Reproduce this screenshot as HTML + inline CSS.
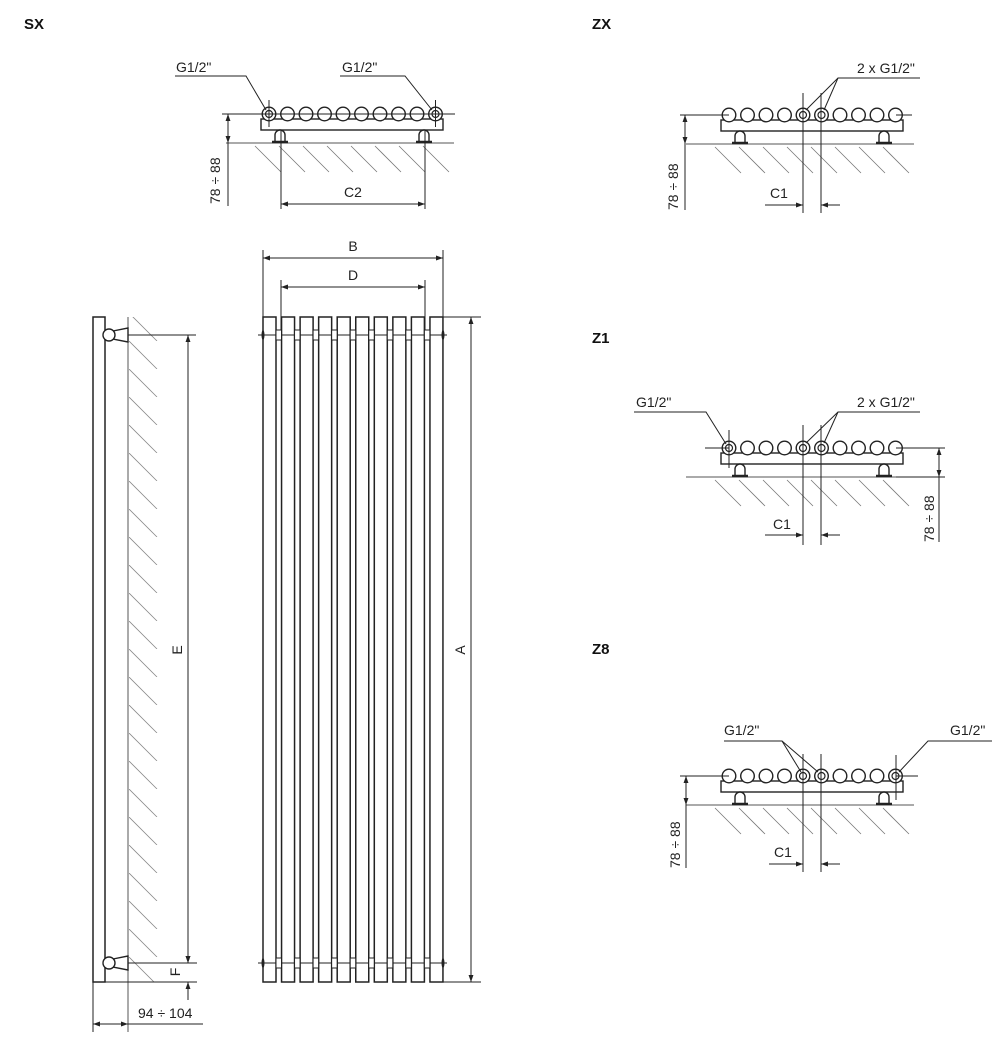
<!DOCTYPE html>
<html><head><meta charset="utf-8"><style>
html,body{margin:0;padding:0;background:#fff;width:1006px;height:1042px;overflow:hidden}
svg{display:block}
text{font-family:"Liberation Sans","DejaVu Sans",sans-serif;font-size:14px;fill:#222}
.t{font-weight:bold;font-size:15px;fill:#111}
</style></head><body>
<svg width="1006" height="1042" viewBox="0 0 1006 1042" xmlns="http://www.w3.org/2000/svg" xmlns:xlink="http://www.w3.org/1999/xlink">
<defs>
<marker id="a" viewBox="0 0 10 10" refX="10" refY="5" markerWidth="9" markerHeight="7" orient="auto-start-reverse" markerUnits="userSpaceOnUse"><path d="M0,1.5 L10,5 L0,8.5z" fill="#222"/></marker>
<pattern id="hp" x="129" y="313" width="40" height="28" patternUnits="userSpaceOnUse"><line x1="0" y1="0" x2="28" y2="28" stroke="#888" stroke-width="0.8"/></pattern>
<g id="tv" stroke="#222" fill="none">
<g stroke="#777" stroke-width="0.8">
<line x1="-14" y1="32" x2="12" y2="58"/><line x1="10" y1="32" x2="36" y2="58"/><line x1="34" y1="32" x2="60" y2="58"/><line x1="58" y1="32" x2="84" y2="58"/><line x1="82" y1="32" x2="108" y2="58"/><line x1="106" y1="32" x2="132" y2="58"/><line x1="130" y1="32" x2="156" y2="58"/><line x1="154" y1="32" x2="180" y2="58"/>
</g>
<line x1="-43" y1="29" x2="185" y2="29" stroke="#555"/>
<rect x="-8" y="5" width="182" height="11" stroke-width="1.4" fill="#fff"/>
<path d="M6,28 L6,21 A5,5 0 0 1 16,21 L16,28" stroke-width="1.4" fill="#fff"/>
<line x1="3" y1="28" x2="19" y2="28" stroke-width="2.5"/>
<path d="M150,28 L150,21 A5,5 0 0 1 160,21 L160,28" stroke-width="1.4" fill="#fff"/>
<line x1="147" y1="28" x2="163" y2="28" stroke-width="2.5"/>
<g stroke-width="1.4" fill="#fff">
<circle cx="0" cy="0" r="6.8"/><circle cx="18.5" cy="0" r="6.8"/><circle cx="37" cy="0" r="6.8"/><circle cx="55.5" cy="0" r="6.8"/><circle cx="74" cy="0" r="6.8"/><circle cx="92.5" cy="0" r="6.8"/><circle cx="111" cy="0" r="6.8"/><circle cx="129.5" cy="0" r="6.8"/><circle cx="148" cy="0" r="6.8"/><circle cx="166.5" cy="0" r="6.8"/>
</g>
</g>
</defs>
<text class="t" x="24" y="29">SX</text>
<text class="t" x="592" y="29">ZX</text>
<text class="t" x="592" y="343">Z1</text>
<text class="t" x="592" y="654">Z8</text>

<g stroke="#222" fill="none" stroke-width="1">
<use xlink:href="#tv" href="#tv" transform="translate(269,114)"/>
<circle cx="269" cy="114" r="3.5" stroke-width="1.2"/><circle cx="435.5" cy="114" r="3.5" stroke-width="1.2"/>
<line x1="222" y1="114" x2="455" y2="114"/>
<line x1="269" y1="100" x2="269" y2="127"/><line x1="435.5" y1="100" x2="435.5" y2="127"/>
<line x1="228" y1="114" x2="228" y2="143" marker-start="url(#a)" marker-end="url(#a)"/><line x1="228" y1="143" x2="228" y2="206"/>
<line x1="281" y1="131" x2="281" y2="209"/><line x1="425" y1="131" x2="425" y2="209"/>
<line x1="281" y1="204" x2="425" y2="204" marker-start="url(#a)" marker-end="url(#a)"/>
<polyline points="175,76 246,76 266,110"/>
<polyline points="340,76 405,76 432,110"/>

<use xlink:href="#tv" href="#tv" transform="translate(729,115)"/>
<circle cx="803" cy="115" r="3.5" stroke-width="1.2"/><circle cx="821.5" cy="115" r="3.5" stroke-width="1.2"/>
<line x1="680" y1="115" x2="729" y2="115"/><line x1="896" y1="115" x2="912" y2="115"/>
<line x1="685" y1="115" x2="685" y2="144" marker-start="url(#a)" marker-end="url(#a)"/><line x1="685" y1="144" x2="685" y2="210"/>
<line x1="803" y1="93" x2="803" y2="213"/><line x1="821" y1="93" x2="821" y2="213"/>
<line x1="765" y1="205" x2="803" y2="205" marker-end="url(#a)"/><line x1="840" y1="205" x2="821" y2="205" marker-end="url(#a)"/>
<polyline points="920,78 838,78 806,110"/><line x1="838" y1="78" x2="824" y2="110"/>

<use xlink:href="#tv" href="#tv" transform="translate(729,448)"/>
<circle cx="729" cy="448" r="3.5" stroke-width="1.2"/><circle cx="803" cy="448" r="3.5" stroke-width="1.2"/><circle cx="821.5" cy="448" r="3.5" stroke-width="1.2"/>
<line x1="705" y1="448" x2="729" y2="448"/><line x1="896" y1="448" x2="945" y2="448"/><line x1="896" y1="477" x2="945" y2="477"/>
<line x1="939" y1="448" x2="939" y2="477" marker-start="url(#a)" marker-end="url(#a)"/><line x1="939" y1="477" x2="939" y2="542"/>
<line x1="803" y1="425" x2="803" y2="545"/><line x1="821" y1="425" x2="821" y2="545"/><line x1="729" y1="430" x2="729" y2="468"/>
<line x1="765" y1="535" x2="803" y2="535" marker-end="url(#a)"/><line x1="840" y1="535" x2="821" y2="535" marker-end="url(#a)"/>
<polyline points="634,412 706,412 726,444"/>
<polyline points="920,412 838,412 806,443"/><line x1="838" y1="412" x2="824" y2="443"/>

<use xlink:href="#tv" href="#tv" transform="translate(729,776)"/>
<circle cx="803" cy="776" r="3.5" stroke-width="1.2"/><circle cx="821.5" cy="776" r="3.5" stroke-width="1.2"/><circle cx="895.5" cy="776" r="3.5" stroke-width="1.2"/>
<line x1="680" y1="776" x2="729" y2="776"/><line x1="896" y1="776" x2="918" y2="776"/>
<line x1="686" y1="776" x2="686" y2="805" marker-start="url(#a)" marker-end="url(#a)"/><line x1="686" y1="805" x2="686" y2="868"/>
<line x1="803" y1="754" x2="803" y2="872"/><line x1="821" y1="754" x2="821" y2="872"/><line x1="896" y1="755" x2="896" y2="800"/>
<line x1="769" y1="864" x2="803" y2="864" marker-end="url(#a)"/><line x1="840" y1="864" x2="821" y2="864" marker-end="url(#a)"/>
<polyline points="724,741 782,741 801,772"/><line x1="782" y1="741" x2="818" y2="772"/>
<polyline points="992,741 928,741 899,772"/>

<rect x="129" y="317" width="30" height="665" fill="url(#hp)" stroke="none"/>
<line x1="128" y1="317" x2="128" y2="1032" stroke="#555"/>
<rect x="93" y="317" width="12" height="665" stroke-width="1.5" fill="#fff"/>
<path d="M113,331 L128,328 L128,342 L113,339z" stroke-width="1.4" fill="#fff"/>
<circle cx="109" cy="335" r="6" stroke-width="1.4" fill="#fff"/>
<path d="M113,959 L128,956 L128,970 L113,967z" stroke-width="1.4" fill="#fff"/>
<circle cx="109" cy="963" r="6" stroke-width="1.4" fill="#fff"/>
<line x1="128" y1="335" x2="196" y2="335"/><line x1="128" y1="963" x2="197" y2="963"/><line x1="93" y1="982" x2="197" y2="982"/>
<line x1="188" y1="335" x2="188" y2="963" marker-start="url(#a)" marker-end="url(#a)"/>
<line x1="188" y1="945" x2="188" y2="963" marker-end="url(#a)"/><line x1="188" y1="1000" x2="188" y2="982" marker-end="url(#a)"/>
<line x1="93" y1="982" x2="93" y2="1032"/>
<line x1="93" y1="1024" x2="128" y2="1024" marker-start="url(#a)" marker-end="url(#a)"/><line x1="128" y1="1024" x2="203" y2="1024"/>

<line x1="263" y1="250" x2="263" y2="317"/><line x1="443" y1="250" x2="443" y2="317"/>
<line x1="263" y1="258" x2="443" y2="258" marker-start="url(#a)" marker-end="url(#a)"/>
<line x1="281" y1="280" x2="281" y2="330"/><line x1="425" y1="280" x2="425" y2="330"/>
<line x1="281" y1="287" x2="425" y2="287" marker-start="url(#a)" marker-end="url(#a)"/>
<line x1="443" y1="317" x2="481" y2="317"/><line x1="443" y1="982" x2="481" y2="982"/>
<line x1="471" y1="317" x2="471" y2="982" marker-start="url(#a)" marker-end="url(#a)"/>
<line x1="258" y1="335" x2="447" y2="335"/><line x1="258" y1="963" x2="447" y2="963"/>
<g fill="#222" stroke="none">
<ellipse cx="263" cy="335" rx="1.5" ry="5"/><ellipse cx="443" cy="335" rx="1.5" ry="5"/>
<ellipse cx="263" cy="963" rx="1.5" ry="5"/><ellipse cx="443" cy="963" rx="1.5" ry="5"/>
</g>
<g stroke-width="1.5">
<rect x="263" y="317" width="13" height="665"/><rect x="281.55" y="317" width="13" height="665"/><rect x="300.1" y="317" width="13" height="665"/><rect x="318.65" y="317" width="13" height="665"/><rect x="337.2" y="317" width="13" height="665"/><rect x="355.75" y="317" width="13" height="665"/><rect x="374.3" y="317" width="13" height="665"/><rect x="392.85" y="317" width="13" height="665"/><rect x="411.4" y="317" width="13" height="665"/><rect x="429.95" y="317" width="13" height="665"/>
</g>
<g fill="#fff">
<rect x="276" y="330" width="5.5" height="10"/><rect x="294.55" y="330" width="5.5" height="10"/><rect x="313.1" y="330" width="5.5" height="10"/><rect x="331.65" y="330" width="5.5" height="10"/><rect x="350.2" y="330" width="5.5" height="10"/><rect x="368.75" y="330" width="5.5" height="10"/><rect x="387.3" y="330" width="5.5" height="10"/><rect x="405.85" y="330" width="5.5" height="10"/><rect x="424.4" y="330" width="5.5" height="10"/>
<rect x="276" y="958" width="5.5" height="10"/><rect x="294.55" y="958" width="5.5" height="10"/><rect x="313.1" y="958" width="5.5" height="10"/><rect x="331.65" y="958" width="5.5" height="10"/><rect x="350.2" y="958" width="5.5" height="10"/><rect x="368.75" y="958" width="5.5" height="10"/><rect x="387.3" y="958" width="5.5" height="10"/><rect x="405.85" y="958" width="5.5" height="10"/><rect x="424.4" y="958" width="5.5" height="10"/>
</g>
</g>

<text x="176" y="72">G1/2"</text>
<text x="342" y="72">G1/2"</text>
<text x="220" y="204" transform="rotate(-90 220 204)">78 ÷ 88</text>
<text x="353" y="197" text-anchor="middle">C2</text>
<text x="857" y="73">2 x G1/2"</text>
<text x="678" y="210" transform="rotate(-90 678 210)">78 ÷ 88</text>
<text x="779" y="198" text-anchor="middle">C1</text>
<text x="636" y="407">G1/2"</text>
<text x="857" y="407">2 x G1/2"</text>
<text x="934" y="542" transform="rotate(-90 934 542)">78 ÷ 88</text>
<text x="782" y="529" text-anchor="middle">C1</text>
<text x="724" y="735">G1/2"</text>
<text x="950" y="735">G1/2"</text>
<text x="680" y="868" transform="rotate(-90 680 868)">78 ÷ 88</text>
<text x="783" y="857" text-anchor="middle">C1</text>
<text x="182" y="650" transform="rotate(-90 182 650)" text-anchor="middle">E</text>
<text x="180" y="972" transform="rotate(-90 180 972)" text-anchor="middle">F</text>
<text x="138" y="1018">94 ÷ 104</text>
<text x="353" y="251" text-anchor="middle">B</text>
<text x="353" y="280" text-anchor="middle">D</text>
<text x="465" y="650" transform="rotate(-90 465 650)" text-anchor="middle">A</text>
</svg>
</body></html>
